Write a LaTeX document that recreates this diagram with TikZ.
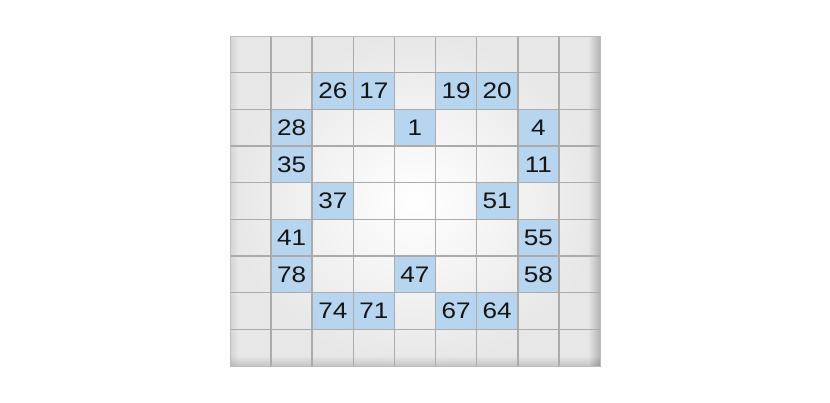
\documentclass[tikz,border=0pt]{standalone}
\usepackage{fontspec}
\setmainfont{Liberation Sans}
\usetikzlibrary{fadings}
\definecolor{cellblue}{HTML}{B7D5EE}
\definecolor{gridgray}{HTML}{ABABAB}
\definecolor{edgegray}{HTML}{E7E7E7}
\definecolor{numblack}{HTML}{151515}
\tikzfading[name=fadeR, left color=transparent!100, right color=transparent!0]
\tikzfading[name=fadeD, top color=transparent!100, bottom color=transparent!0]
\tikzfading[name=fadeL, left color=transparent!0, right color=transparent!100]
\tikzset{
  numcell/.style={fill=cellblue},
  numtext/.style={font=\fontsize{22.5}{22.5}\selectfont, text=numblack, inner sep=0pt},
  gridline/.style={draw=gridgray, line width=1.6pt},
}
\begin{document}
\begin{tikzpicture}[x=1pt,y=-1pt]
\useasboundingbox (0,0) rectangle (830,402);
\fill[white] (0,0) rectangle (830,402);
% grid background with vignette
\def\gx{230}\def\gy{36}\def\cw{41.11}\def\ch{36.67}
\shade[inner color=white, outer color=edgegray] (230,36) rectangle (600,366);
\fill[black, opacity=0.22, path fading=fadeR] (588,36) rectangle (600,366);
\fill[black, opacity=0.15, path fading=fadeD] (230,356) rectangle (600,366);
\fill[black, opacity=0.08, path fading=fadeL] (230,36) rectangle (238,366);
% blue cells and numbers
\foreach \r/\c/\n in {1/2/26,1/3/17,1/5/19,1/6/20,
  2/1/28,2/4/1,2/7/4,
  3/1/35,3/7/11,
  4/2/37,4/6/51,
  5/1/41,5/7/55,
  6/1/78,6/4/47,6/7/58,
  7/2/74,7/3/71,7/5/67,7/6/64}{
  \fill[numcell] ({\gx+\c*\cw},{\gy+\r*\ch}) rectangle ({\gx+(\c+1)*\cw},{\gy+(\r+1)*\ch});
  \node[numtext] (n\r\c) at ({\gx+(\c+0.5)*\cw},{\gy+(\r+0.5)*\ch}) {\scalebox{1.16}[1]{\n}};
}
% grid lines
\foreach \i in {1,...,8}{
  \draw[gridline] ({\gx+\i*\cw},36) -- ({\gx+\i*\cw},366);
  \draw[gridline] (230,{\gy+\i*\ch}) -- (600,{\gy+\i*\ch});
}
\draw[draw=gridgray!80, line width=1pt] (230,36) rectangle (600,366);
\end{tikzpicture}
\end{document}
